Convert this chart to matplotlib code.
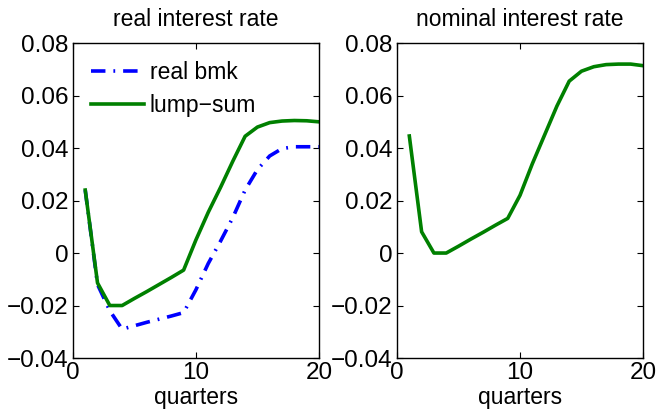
import matplotlib.pyplot as plt

plt.rcParams['font.family'] = ['Liberation Sans', 'DejaVu Sans']

quarters = list(range(1, 21))

real_bmk = [0.024, -0.012, -0.022, -0.029, -0.0277, -0.0264, -0.0252, -0.024, -0.0227, -0.014,
            -0.004, 0.0045, 0.0135, 0.024, 0.0318, 0.037, 0.0398, 0.0405, 0.0405, 0.0405]
lump_sum_real = [0.024, -0.0114, -0.020, -0.020, -0.0173, -0.0147, -0.012, -0.0093, -0.0065, 0.005,
                 0.0155, 0.025, 0.035, 0.0445, 0.048, 0.0497, 0.0503, 0.0505, 0.0504, 0.050]
lump_sum_nominal = [0.0446, 0.0081, 0.0, 0.0, 0.0026, 0.0053, 0.0079, 0.0106, 0.0132, 0.022,
                    0.034, 0.045, 0.056, 0.0655, 0.0693, 0.071, 0.0718, 0.072, 0.072, 0.0714]

yticks = [-0.04, -0.02, 0, 0.02, 0.04, 0.06, 0.08]
ytick_labels = ['\u22120.04', '\u22120.02', '0', '0.02', '0.04', '0.06', '0.08']
xticks = [0, 10, 20]

green = '#008000'
blue = '#0000ff'

fig = plt.figure(figsize=(6.57, 4.16), dpi=100)
ax1 = fig.add_axes([0.111, 0.1394, 0.3744, 0.757])
ax2 = fig.add_axes([0.6043, 0.1394, 0.3744, 0.757])

ax1.plot(quarters, real_bmk, color=blue, lw=2.6, dashes=[4, 2.2, 0.5, 2.2], label='real bmk')
ax1.plot(quarters, lump_sum_real, color=green, lw=2.6, label='lump\u2212sum')
ax1.set_title('real interest rate', fontsize=16.5, pad=12)
leg = ax1.legend(loc='upper left', frameon=False, fontsize=16.5, handlelength=2.3,
                 handletextpad=0.25, borderaxespad=0.4, labelspacing=0.4)

ax2.plot(quarters, lump_sum_nominal, color=green, lw=2.6)
ax2.set_title('nominal interest rate', fontsize=16.5, pad=12)

for ax in (ax1, ax2):
    ax.set_xlim(0, 20)
    ax.set_ylim(-0.04, 0.08)
    ax.set_xticks(xticks)
    ax.set_yticks(yticks)
    ax.set_yticklabels(ytick_labels)
    ax.tick_params(direction='in', top=True, right=True, labelsize=17.5, length=4, width=0.8, pad=3)
    ax.set_xlabel('quarters', fontsize=16.5, labelpad=1)
    for s in ax.spines.values():
        s.set_linewidth(1.0)

fig.savefig('out.png', dpi=100)
